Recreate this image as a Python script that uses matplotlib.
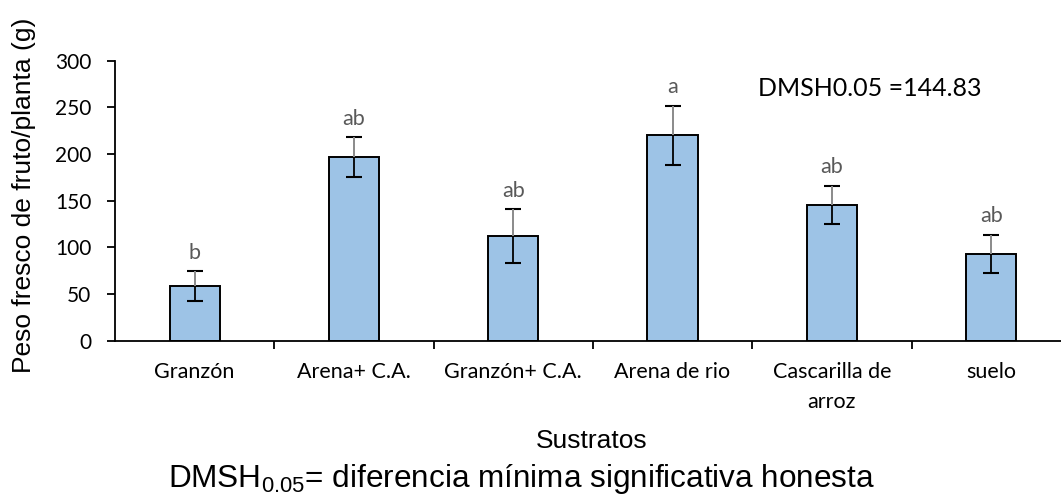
import numpy as np
import matplotlib
matplotlib.use('Agg')
import matplotlib.pyplot as plt
from matplotlib.ticker import FixedLocator, NullFormatter

# ====== 字体 ======
plt.rcParams['font.family'] = ['Lato', 'DejaVu Sans']
plt.rcParams['mathtext.default'] = 'regular'

# ====== 数据 ======
sustratos = ['Granzón', 'Arena+ C.A.', 'Granzón+ C.A.', 'Arena de rio',
             'Cascarilla de\narroz', 'suelo']
peso = [58.6, 196.5, 111.8, 220.0, 145.7, 92.9]
error = [16.0, 21.5, 29.0, 31.8, 20.5, 20.5]
letras = ['b', 'ab', 'ab', 'a', 'ab', 'ab']
dmsh = 144.83

W, H = 1061, 496
fig = plt.figure(figsize=(W / 100, H / 100), dpi=100)
ax = fig.add_axes([115 / W, (H - 340.7) / H, (W - 115) / W, 280 / H])

x = np.arange(len(sustratos))
peso = np.array(peso)
error = np.array(error)

ax.bar(x, peso, width=0.315, color='#9DC3E6', edgecolor='black', linewidth=1.4, zorder=2)
# barras de error: parte inferior negra, parte superior gris
ax.errorbar(x, peso, yerr=error, fmt='none', ecolor='black', elinewidth=1.3,
            capsize=6, capthick=1.5, zorder=3)
ax.vlines(x, peso, peso + error, colors='#9a9a9a', linewidth=1.3, zorder=4)

for xi, yi, ei, l in zip(x, peso, error, letras):
    ax.annotate(l, (xi, yi + ei), xytext=(0, 9), textcoords='offset points',
                ha='center', va='baseline', fontsize=15.5, color='#595959')

# ====== 坐标轴 ======
ax.set_ylim(0, 300)
ax.set_yticks(np.arange(0, 301, 50))
ax.set_xlim(-0.5, -0.5 + (W - 115) / 159.3)
ax.set_xticks(x)
ax.set_xticklabels(sustratos, fontsize=15.5, linespacing=1.65)
ax.xaxis.set_minor_locator(FixedLocator(np.arange(0.5, len(sustratos) - 0.5, 1)))
ax.xaxis.set_minor_formatter(NullFormatter())
ax.tick_params(axis='x', which='major', length=0, pad=15)
ax.tick_params(axis='x', which='minor', length=6, width=1.3, direction='out')
ax.tick_params(axis='y', length=6, width=1.3, direction='out', labelsize=15, pad=11)

for s in ['top', 'right']:
    ax.spines[s].set_visible(False)
ax.spines['left'].set_linewidth(1.3)
ax.spines['bottom'].set_linewidth(1.3)

# ====== 文本 ======
fig.text(758 / W, (H - 95.7) / H, 'DMSH0.05 =%.2f' % dmsh, fontsize=18,
         ha='left', va='baseline')
fig.text(24 / W, (H - 195) / H, 'Peso fresco de fruto/planta (g)', rotation=90,
         ha='center', va='center', fontsize=19, family='Liberation Sans')
fig.text(592 / W, (H - 448) / H, 'Sustratos', ha='center', va='baseline',
         fontsize=19, family='Liberation Sans')
fig.text(168 / W, (H - 487) / H,
         'DMSH$_{0.05}$= diferencia mínima significativa honesta',
         ha='left', va='baseline', fontsize=22.7, family='Liberation Sans',
         math_fontfamily='custom')

fig.savefig('out.png', dpi=100)
